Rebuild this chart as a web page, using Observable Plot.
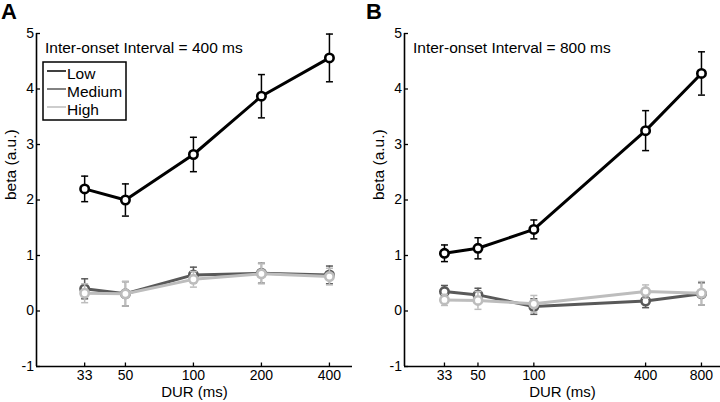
<!DOCTYPE html>
<html><head><meta charset="utf-8">
<script src="https://cdn.jsdelivr.net/npm/d3@7"></script>
<script src="https://cdn.jsdelivr.net/npm/@observablehq/plot@0.6"></script>
<style>
body{margin:0;background:#fff;}
#wrap{position:relative;width:720px;height:402px;font-family:"Liberation Sans",Arial,sans-serif;overflow:hidden;}
.panel{position:absolute;top:0;}
#overlay{position:absolute;left:0;top:0;pointer-events:none;}
</style></head><body><div id="wrap"><div id="pA" class="panel" style="left:0"></div><div id="pB" class="panel" style="left:360px"></div></div>
<script>
// ---- data ----
const levels = ["Low", "Medium", "High"];
const levelColors = ["#000000", "#595959", "#bdbdbd"];
const yTicks = [-1, 0, 1, 2, 3, 4, 5];
const yDomain = [-1, 5];

// Panel A: inter-onset interval 400 ms
const durA = [33, 50, 100, 200, 400];
const xDomainA = [20.2, 506];
const lowA = [2.20, 2.00, 2.82, 3.87, 4.56];
const lowAerr = [0.23, 0.29, 0.31, 0.39, 0.43];
const medA = [0.40, 0.31, 0.65, 0.68, 0.65];
const medAerr = [0.18, 0.22, 0.14, 0.18, 0.16];
const highA = [0.32, 0.31, 0.57, 0.67, 0.62];
const highAerr = [0.17, 0.22, 0.14, 0.18, 0.15];

// Panel B: inter-onset interval 800 ms
const durB = [33, 50, 100, 400, 800];
const xDomainB = [20.1, 1013];
const lowB = [1.04, 1.13, 1.47, 3.25, 4.28];
const lowBerr = [0.15, 0.19, 0.17, 0.36, 0.39];
const medB = [0.35, 0.29, 0.08, 0.18, 0.31];
const medBerr = [0.11, 0.12, 0.14, 0.12, 0.20];
const highB = [0.20, 0.19, 0.13, 0.35, 0.32];
const highBerr = [0.10, 0.16, 0.15, 0.12, 0.21];

const titleA = "Inter-onset Interval = 400 ms";
const titleB = "Inter-onset Interval = 800 ms";
const xLabel = "DUR (ms)";
const yLabel = "beta (a.u.)";

// ---- build rows ----
function rows(dur, series) {
  const out = [];
  series.forEach(([level, vals, errs]) => {
    dur.forEach((d, i) => out.push({dur: d, level, beta: vals[i], err: errs[i]}));
  });
  return out;
}
const dataA = rows(durA, [["Low", lowA, lowAerr], ["Medium", medA, medAerr], ["High", highA, highAerr]]);
const dataB = rows(durB, [["Low", lowB, lowBerr], ["Medium", medB, medBerr], ["High", highB, highBerr]]);

const capSymbol = {draw(ctx, size) { const w = Math.sqrt(size / Math.PI); ctx.moveTo(-w, 0); ctx.lineTo(w, 0); }};
const upTick = {draw(ctx, size) { const l = Math.sqrt(size / Math.PI); ctx.moveTo(0, 0); ctx.lineTo(0, -l); }};

function panel(data, dur, xDomain, marginLeft, marginRight) {
  const marks = [
    Plot.ruleY([yDomain[0]], {stroke: "#000", strokeWidth: 1.6}),
    Plot.ruleX([xDomain[0]], {stroke: "#000", strokeWidth: 1.6}),
    Plot.axisY(yTicks, {tickSize: -4, tickPadding: 6.5, tickFormat: d => String(d), label: null, fontSize: 14, strokeWidth: 1.3}),
    // x ticks (inward) and labels
    Plot.dot(dur, {x: d => d, y: () => yDomain[0], symbol: upTick, r: 4, fill: "none", stroke: "#000", strokeWidth: 1.3}),
    Plot.text(dur, {x: d => d, frameAnchor: "bottom", lineAnchor: "top", dy: 3.5, text: d => String(d), fontSize: 14}),
    Plot.text([yLabel], {frameAnchor: "left", rotate: -90, dx: -25, fontSize: 15.5, lineAnchor: "middle"}),
    Plot.text([xLabel], {frameAnchor: "bottom", dy: 25.5, fontSize: 15, lineAnchor: "middle"})
  ];
  for (const lv of levels) {
    const f = d => d.level === lv;
    marks.push(
      Plot.ruleX(data, {filter: f, x: "dur", y1: d => d.beta - d.err, y2: d => d.beta + d.err, stroke: "level", strokeWidth: 1.5}),
      Plot.dot(data, {filter: f, x: "dur", y: d => d.beta - d.err, symbol: capSymbol, r: 3.5, fill: "none", stroke: "level", strokeWidth: 1.5}),
      Plot.dot(data, {filter: f, x: "dur", y: d => d.beta + d.err, symbol: capSymbol, r: 3.5, fill: "none", stroke: "level", strokeWidth: 1.5}),
      Plot.line(data, {filter: f, x: "dur", y: "beta", stroke: "level", strokeWidth: 3}),
      Plot.dot(data, {filter: f, x: "dur", y: "beta", r: 4.2, fill: "white", stroke: "level", strokeWidth: 2.6})
    );
  }
  return Plot.plot({
    width: 360, height: 402,
    marginLeft, marginRight, marginTop: 33, marginBottom: 36,
    style: {fontFamily: "'Liberation Sans', Arial, sans-serif", fontSize: "14px", color: "#000", background: "transparent"},
    x: {type: "log", domain: xDomain, axis: null},
    y: {domain: yDomain},
    color: {domain: levels, range: levelColors},
    marks
  });
}

document.getElementById("pA").appendChild(panel(dataA, durA, xDomainA, 36, 8));
document.getElementById("pB").appendChild(panel(dataB, durB, xDomainB, 44, 0));

// ---- overlay: panel letters, titles, legend ----
const svg = d3.select("#wrap").append("svg").attr("id", "overlay").attr("width", 720).attr("height", 402)
  .style("font-family", "'Liberation Sans', Arial, sans-serif");
svg.append("text").attr("x", 1).attr("y", 19).attr("font-size", 22).attr("font-weight", "bold").text("A");
svg.append("text").attr("x", 366).attr("y", 19).attr("font-size", 22).attr("font-weight", "bold").text("B");
svg.append("text").attr("x", 45).attr("y", 53).attr("font-size", 15.5).text(titleA);
svg.append("text").attr("x", 413).attr("y", 53).attr("font-size", 15.5).text(titleB);
const lg = svg.append("g");
lg.append("rect").attr("x", 43).attr("y", 62).attr("width", 83).attr("height", 58).attr("fill", "white").attr("stroke", "#000").attr("stroke-width", 1.5);
levels.forEach((lv, i) => {
  const y = 71 + i * 18;
  lg.append("line").attr("x1", 47).attr("x2", 66).attr("y1", y).attr("y2", y).attr("stroke", levelColors[i]).attr("stroke-width", 1.5);
  lg.append("text").attr("x", 67).attr("y", y + 8).attr("font-size", 15.5).attr("fill", "#000").text(lv);
});
</script>
</body></html>
